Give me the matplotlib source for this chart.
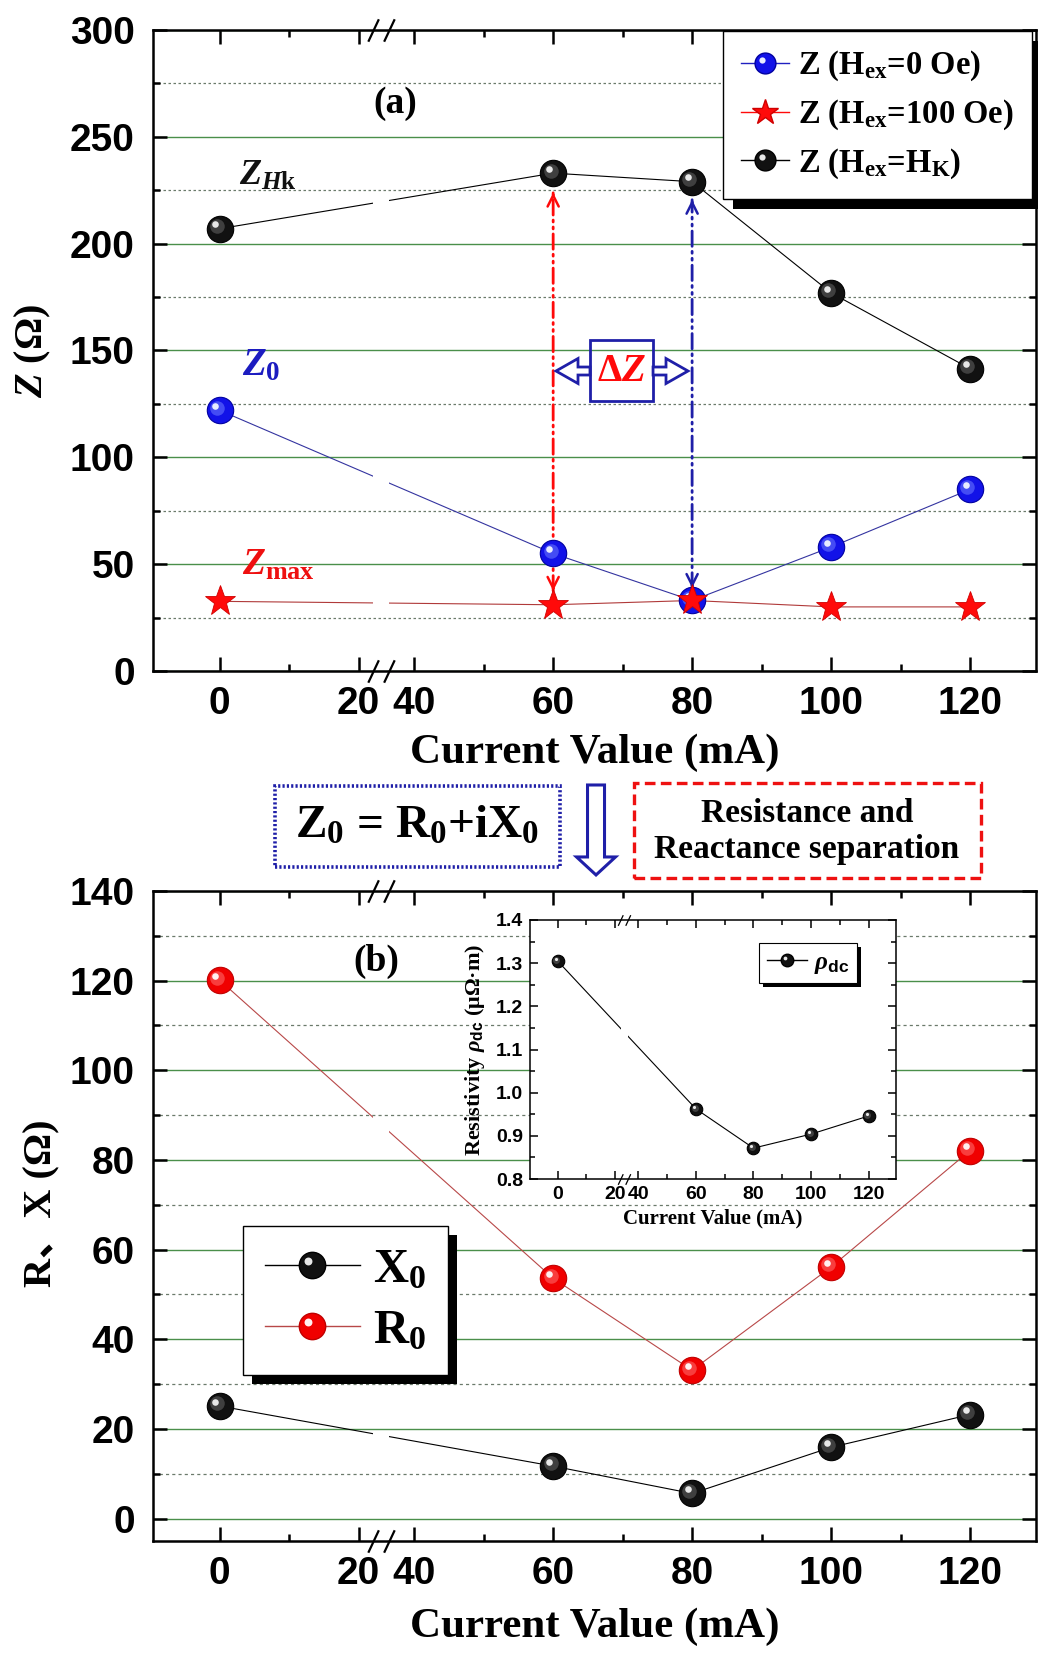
import numpy as np
import matplotlib
matplotlib.use("Agg")
import matplotlib.pyplot as plt
from matplotlib.patches import Rectangle, FancyArrow
from matplotlib.lines import Line2D
from matplotlib.legend_handler import HandlerLine2D, HandlerTuple
from matplotlib.transforms import offset_copy, Affine2D, IdentityTransform, blended_transform_factory
from matplotlib.path import Path
from matplotlib.ticker import FixedLocator, FormatStrFormatter

# ---------------- data ----------------
current = [0, 60, 80, 100, 120]                 # mA
z_hk = [207, 233, 229, 177, 141.5]              # Z (Hex = HK), ohm
z_0 = [122, 55, 33, 58, 85]                     # Z (Hex = 0 Oe), ohm
z_max = [32.6, 31, 33, 30, 30]                  # Z (Hex = 100 Oe), ohm
x_0 = [25.1, 11.7, 5.6, 15.9, 23.2]             # reactance, ohm
r_0 = [120.1, 53.6, 33.1, 56.1, 82.1]           # resistance, ohm
rho_dc = [1.305, 0.9625, 0.8715, 0.904, 0.946]  # resistivity, uOhm*m

x_major = [0, 20, 40, 60, 80, 100, 120]
x_minor = [10, 50, 70, 90, 110]
x_labels = ["0", "20", "40", "60", "80", "100", "120"]

# ---------------- fonts ----------------
plt.rcParams["font.family"] = ["Liberation Serif", "Noto Sans CJK SC", "DejaVu Sans"]
plt.rcParams["font.weight"] = "bold"
plt.rcParams["axes.labelweight"] = "bold"
plt.rcParams["mathtext.fontset"] = "custom"
plt.rcParams["mathtext.rm"] = "Liberation Serif:bold"
plt.rcParams["mathtext.bf"] = "Liberation Serif:bold"
plt.rcParams["mathtext.it"] = "Liberation Serif:italic:bold"
plt.rcParams["mathtext.sf"] = "Liberation Sans:bold"
plt.rcParams["mathtext.tt"] = "Liberation Serif"
plt.rcParams["mathtext.cal"] = "Liberation Serif:italic"

SANS = "Liberation Sans"
GREEN = "#4a8f4a"
GRID_MINOR = "#6b7a6b"
BLUE = "#1212e8"
NAVY = "#1f1fa8"
RED = "#ff0a0a"


# broken x axis: the 20..40 mA stretch is compressed
def fwd(x):
    x = np.asarray(x, dtype=float)
    return np.where(x <= 20, x, np.where(x >= 40, x - 12.0, 20.0 + (x - 20.0) * 0.4))


def inv(u):
    u = np.asarray(u, dtype=float)
    return np.where(u <= 20, u, np.where(u >= 28, u + 12.0, 20.0 + (u - 20.0) / 0.4))


GAP = (25.0, 31.0)
BREAK_AT = 28.0

W, H = 1038, 1654
fig = plt.figure(figsize=(W / 100, H / 100), dpi=100)


def px_axes(left, top, right, bottom):
    return fig.add_axes([left / W, 1 - bottom / H, (right - left) / W, (bottom - top) / H])


axA = px_axes(153, 30, 1036, 671)
axB = px_axes(153, 891, 1036, 1541)
axI = px_axes(530, 920, 896, 1179)


def style_axes(ax, major_len, minor_len, lw, labelsize, xpad, ypad):
    ax.set_xscale("function", functions=(fwd, inv))
    ax.xaxis.set_major_locator(FixedLocator(x_major))
    ax.xaxis.set_minor_locator(FixedLocator(x_minor))
    ax.set_xticklabels(x_labels)
    ax.set_xlim(-9.6, 129.5)
    for sp in ax.spines.values():
        sp.set_linewidth(lw)
    ax.tick_params(which="both", direction="in", top=True, right=True, width=lw)
    ax.tick_params(which="major", length=major_len, labelsize=labelsize,
                   labelfontfamily=SANS)
    ax.tick_params(axis="x", which="major", pad=xpad)
    ax.tick_params(axis="y", which="major", pad=ypad)
    ax.tick_params(which="minor", length=minor_len)


def break_marks(ax, size, lw):
    mark = Path([(-1, -0.85), (-0.2, 0.85), (0.2, -0.85), (1, 0.85)],
                [Path.MOVETO, Path.LINETO, Path.MOVETO, Path.LINETO])
    ax.plot([BREAK_AT, BREAK_AT], [0, 1], transform=ax.get_xaxis_transform(),
            ls="none", marker=mark, ms=size, mec="k", mew=lw, clip_on=False, zorder=6)


def broken_line(ax, x, y, color, lw):
    trans = blended_transform_factory(ax.transData, ax.transAxes)
    for lo, hi in [(-60.0, GAP[0]), (GAP[1], 400.0)]:
        ln, = ax.plot(x, y, color=color, lw=lw, zorder=3)
        ln.set_clip_path(Rectangle((lo, -1), hi - lo, 3, transform=trans))


def spheres(ax, x, y, face, edge, mid, hl, ms, z=4):
    ax.plot(x, y, ls="none", marker="o", ms=ms, mfc=face, mec=edge, mew=0.8, zorder=z)
    ax.plot(x, y, ls="none", marker="o", ms=ms * 0.55, mfc=mid, mec="none", alpha=0.55,
            zorder=z + 0.1,
            transform=offset_copy(ax.transData, fig=fig, x=-ms * 0.1, y=ms * 0.1, units="points"))
    ax.plot(x, y, ls="none", marker="o", ms=ms * 0.25, mfc=hl, mec="none", zorder=z + 0.2,
            transform=offset_copy(ax.transData, fig=fig, x=-ms * 0.16, y=ms * 0.16, units="points"))


class HandlerShifted(HandlerLine2D):
    """Legend handler that nudges the marker to draw a sphere highlight."""

    def __init__(self, dx, dy, **kw):
        super().__init__(**kw)
        self.dx, self.dy = dx, dy

    def create_artists(self, legend, orig_handle, xdescent, ydescent, width, height,
                       fontsize, trans):
        arts = super().create_artists(legend, orig_handle, xdescent, ydescent, width,
                                      height, fontsize, trans)
        for a in arts:
            a.set_transform(trans + Affine2D().translate(self.dx, self.dy))
        return arts


def sphere_handle(line_color, face, edge, hl, ms, handler_map, lw=1.0):
    base = Line2D([], [], color=line_color, lw=lw, marker="o", ms=ms, mfc=face, mec=edge)
    high = Line2D([], [], ls="none", marker="o", ms=ms * 0.3, mfc=hl, mec="none")
    handler_map[high] = HandlerShifted(-ms * 0.2, ms * 0.2)
    return (base, high)


def add_shadow(ax, leg, off):
    fig.canvas.draw()
    bb = leg.get_window_extent()
    sh = Rectangle((bb.x0 + off, bb.y0 - off), bb.width, bb.height, transform=IdentityTransform(),
                   fc="black", ec="none", zorder=leg.get_zorder() - 0.05, clip_on=False)
    ax.add_artist(sh)


# ================= panel (a) =================
style_axes(axA, 10, 5, 1.8, 28, 11, 13)
axA.set_ylim(0, 300)
axA.yaxis.set_major_locator(FixedLocator(np.arange(0, 301, 50)))
axA.yaxis.set_minor_locator(FixedLocator(np.arange(25, 300, 50)))
axA.set_axisbelow(True)
axA.grid(True, which="major", axis="y", color=GREEN, lw=1.0)
axA.grid(True, which="minor", axis="y", color=GRID_MINOR, lw=0.9, ls=(0, (2, 2)))
break_marks(axA, 19, 1.6)

broken_line(axA, current, z_hk, "black", 0.8)
broken_line(axA, current, z_0, "#3434a0", 0.8)
broken_line(axA, current, z_max, "#b03a3a", 0.8)
spheres(axA, current, z_hk, "#111111", "#000000", "#666666", "#e8e8e8", 19)
spheres(axA, current, z_0, BLUE, "#0000a0", "#6f7cff", "#e8ecff", 19)
axA.plot(current, z_max, ls="none", marker="*", ms=23, mfc=RED, mec="#d00000", mew=0.6, zorder=4.5)

# arrows between the curves at 60 mA and 80 mA
i60, i80 = current.index(60), current.index(80)
DASH = (0, (5.5, 1.8, 0.7, 1.8, 0.7, 1.8))


def dd_arrow(ax, x, y_lo, y_hi, color, sh_lo, sh_hi):
    ax.annotate("", xy=(x, y_hi), xytext=(x, y_lo),
                arrowprops=dict(arrowstyle="-", color=color, lw=2.0, linestyle=DASH,
                                shrinkA=sh_lo, shrinkB=sh_hi), zorder=3.5)
    for yy, sh, sign in [(y_hi, sh_hi, -1), (y_lo, sh_lo, 1)]:
        ax.annotate("", xy=(x, yy), xytext=(0, sign * (sh + 2)), textcoords="offset points",
                    arrowprops=dict(arrowstyle="->", color=color, lw=1.8, mutation_scale=20,
                                    shrinkA=0, shrinkB=sh), zorder=3.5)


dd_arrow(axA, current[i60], z_max[i60], z_hk[i60], RED, 10, 14)
dd_arrow(axA, current[i80], z_0[i80], z_hk[i80], NAVY, 9, 13)

# Delta-Z box with hollow side arrows
axA.add_patch(Rectangle((0.4949, 0.4212), 0.0714, 0.0952, transform=axA.transAxes,
                        fill=False, ec=NAVY, lw=2.0, zorder=6))
axA.text(0.5311, 0.468, r"Δ$Z$", transform=axA.transAxes, ha="center", va="center",
         color=RED, fontsize=28, zorder=6)
for x0, dx in [(0.4949, -0.0385), (0.5663, 0.0396)]:
    axA.add_patch(FancyArrow(x0, 0.468, dx, 0, width=8 / 641, head_width=25 / 641,
                             head_length=22 / 883, length_includes_head=True,
                             transform=axA.transAxes, fc="white", ec=NAVY, lw=2.0, zorder=6))

axA.text(0.274, 0.8846, "(a)", transform=axA.transAxes, ha="center", va="center", fontsize=27)
axA.text(0.0974, 0.758, r"$Z_{\mathcal{H}\mathtt{k}}$", transform=axA.transAxes,
         ha="left", va="baseline", fontsize=26, color="#111111")
axA.text(0.1008, 0.4618, r"$Z_{\mathtt{0}}$", transform=axA.transAxes,
         ha="left", va="baseline", fontsize=28, color="#1c1cc0")
axA.text(0.1008, 0.1498, r"$Z_{\mathtt{max}}$", transform=axA.transAxes,
         ha="left", va="baseline", fontsize=27, color="#ee1010")

hmap = {tuple: HandlerTuple(ndivide=1, pad=0)}
hA = [sphere_handle("#2020c0", BLUE, "#0000a0", "#e8ecff", 15, hmap),
      Line2D([], [], color=RED, lw=1.0, marker="*", ms=19, mfc=RED, mec="#d00000"),
      sphere_handle("black", "#111111", "#000000", "#e8e8e8", 15, hmap)]
labA = [r"Z (H$_{\mathrm{ex}}$=0 Oe)", r"Z (H$_{\mathrm{ex}}$=100 Oe)",
        r"Z (H$_{\mathrm{ex}}$=H$_{\mathrm{K}}$)"]
legA = axA.legend(hA, labA, handler_map=hmap, loc="upper right", bbox_to_anchor=(0.9955, 0.9984),
                  borderaxespad=0, fontsize=23.5, frameon=True, fancybox=False, framealpha=1,
                  edgecolor="black", handlelength=1.45, handletextpad=0.3, labelspacing=0.44,
                  borderpad=0.55, numpoints=1)
legA.get_frame().set_linewidth(1.0)
legA.set_zorder(8)

axA.set_xlabel("Current Value (mA)", fontsize=31)
axA.xaxis.set_label_coords(0.5, -0.097)
axA.set_ylabel(r"$Z$ (Ω)", fontsize=29)
axA.yaxis.set_label_coords(-0.113, 0.5)

# ================= connector between panels =================
fig.add_artist(Rectangle((0.2649, 0.4758), 0.2746, 0.049, transform=fig.transFigure,
                         fill=False, ec=NAVY, lw=2.6, ls=(0, (0.6, 0.6))))
fig.text(0.4017, 0.5003, r"Z$_{\mathrm{0}}$ = R$_{\mathrm{0}}$+iX$_{\mathrm{0}}$", ha="center",
         va="center", fontsize=34)
fig.add_artist(FancyArrow(0.5742, 0.5254, 0, -0.0544, width=17 / 1038, head_width=39 / 1038,
                          head_length=18 / 1654, length_includes_head=True,
                          transform=fig.transFigure, fc="white", ec=NAVY, lw=2.2))
fig.add_artist(Rectangle((0.6108, 0.4692), 0.3343, 0.0574, transform=fig.transFigure,
                         fill=False, ec="#ee1111", lw=2.4, ls=(0, (3.2, 1.6))))
fig.text(0.7775, 0.4973, "Resistance and\nReactance separation", ha="center", va="center",
         fontsize=24, linespacing=1.2)

# ================= panel (b) =================
style_axes(axB, 10, 5, 1.8, 28, 11, 13)
axB.set_ylim(-5, 140)
axB.yaxis.set_major_locator(FixedLocator(np.arange(0, 141, 20)))
axB.yaxis.set_minor_locator(FixedLocator(np.arange(10, 140, 20)))
axB.set_axisbelow(True)
axB.grid(True, which="major", axis="y", color=GREEN, lw=1.0)
axB.grid(True, which="minor", axis="y", color=GRID_MINOR, lw=0.9, ls=(0, (2.5, 2.5)))
break_marks(axB, 19, 1.6)

broken_line(axB, current, r_0, "#b84848", 0.8)
broken_line(axB, current, x_0, "black", 0.8)
spheres(axB, current, r_0, "#f00000", "#c00000", "#ff7070", "#fff0f0", 19)
spheres(axB, current, x_0, "#111111", "#000000", "#666666", "#e8e8e8", 19)

axB.text(0.2525, 0.8923, "(b)", transform=axB.transAxes, ha="center", va="center", fontsize=27)

hmapB = {tuple: HandlerTuple(ndivide=1, pad=0)}
hB = [sphere_handle("black", "#111111", "#000000", "#e8e8e8", 19, hmapB),
      sphere_handle("#b84848", "#f00000", "#c00000", "#fff0f0", 19, hmapB)]
legB = axB.legend(hB, [r"X$_{\mathrm{0}}$", r"R$_{\mathrm{0}}$"], handler_map=hmapB,
                  loc="upper left", bbox_to_anchor=(0.1019, 0.4846), borderaxespad=0,
                  fontsize=35, frameon=True, fancybox=False, framealpha=1, edgecolor="black",
                  handlelength=1.95, handletextpad=0.28, labelspacing=0.35, borderpad=0.45,
                  numpoints=1)
legB.get_frame().set_linewidth(1.0)
legB.set_zorder(8)

axB.set_xlabel("Current Value (mA)", fontsize=31)
axB.xaxis.set_label_coords(0.5, -0.103)
axB.set_ylabel("R、X (Ω)", fontsize=29)
axB.yaxis.set_label_coords(-0.105, 0.52)

# ================= inset: dc resistivity =================
style_axes(axI, 6, 3.5, 1.1, 14, 5, 5)
axI.set_ylim(0.8, 1.4)
axI.yaxis.set_major_locator(FixedLocator(np.arange(0.8, 1.41, 0.1)))
axI.yaxis.set_minor_locator(FixedLocator(np.arange(0.85, 1.4, 0.1)))
axI.yaxis.set_major_formatter(FormatStrFormatter("%.1f"))
axI.set_zorder(5)
break_marks(axI, 9, 0.9)
broken_line(axI, current, rho_dc, "black", 0.8)
spheres(axI, current, rho_dc, "#111111", "#000000", "#666666", "#e8e8e8", 9)
axI.set_xlabel("Current Value (mA)", fontsize=15)
axI.xaxis.set_label_coords(0.5, -0.112)
axI.set_ylabel(r"Resistivity $\rho_{\mathsf{dc}}$ (μΩ·m)", fontsize=16)
axI.yaxis.set_label_coords(-0.1175, 0.5)

hmapI = {tuple: HandlerTuple(ndivide=1, pad=0)}
hI = [sphere_handle("black", "#111111", "#000000", "#e8e8e8", 9, hmapI)]
legI = axI.legend(hI, [r"$\rho_{\mathsf{dc}}$"], handler_map=hmapI, loc="upper left",
                  bbox_to_anchor=(0.6257, 0.911), borderaxespad=0, fontsize=18, frameon=True,
                  fancybox=False, framealpha=1, edgecolor="black", handlelength=1.6,
                  handletextpad=0.3, borderpad=0.3, numpoints=1)
legI.get_frame().set_linewidth(0.8)

add_shadow(axA, legA, 10)
add_shadow(axB, legB, 9)
add_shadow(axI, legI, 4)

fig.savefig("out.png", dpi=100)
